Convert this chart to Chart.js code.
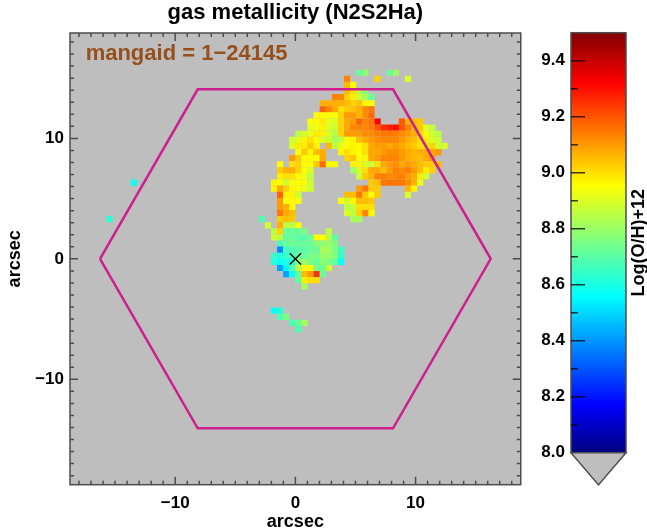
<!DOCTYPE html>
<html>
<head>
<meta charset="utf-8">
<script src="https://cdn.jsdelivr.net/npm/chart.js@4"></script>
<style>
  body { margin: 0; background: #fff; }
  canvas { position: absolute; top: 0; }
  #mapChart { left: 0; }
  #barChart { left: 530px; }
</style>
</head>
<body>
<canvas id="mapChart" width="530" height="531"></canvas>
<canvas id="barChart" width="117" height="531"></canvas>
<script>
const fontName = "'Liberation Sans', Arial, sans-serif";
const grey = "#bebebe";
const frameColor = "#4d4d4d";

// spaxel rows: row number, first column, log(O/H)+12 per column
const rowIndex = [30, 29, 28, 27, 26, 25, 24, 23, 22, 21, 20, 19, 18, 17, 16, 15, 14, 13, 12, 11, 10, 9, 8, 7, 6, 5, 4, 3, 2, 1, 0, -1, -2, -3, -4, -5, -9, -10, -11, -12];
const firstCol = [10, 8, 8, 8, 6, 4, 4, 3, 2, 2, 0, -1, -1, 0, -1, -3, -3, -3, -4, -4, -3, -3, -3, -3, -6, -5, -4, -4, -3, -3, -4, -4, -3, -2, 0, 1, -4, -3, -1, 0];
const rowValues = [
  [8.72, 8.78, null, null, null, 8.72, 8.8],
  [9.13, null, null, null, null, 9.02, null, null, null, null, 8.9],
  [9.06, 8.96],
  [9.05, 9.0, 8.85, 8.78],
  [9.13, 9.13, 9.02, 8.98, 8.88, 8.82, 8.72],
  [9.07, 9.07, 9.07, 9.07, 9.05, 9.02, 9.04, 8.97, 8.95],
  [9.18, 9.13, 9.08, 9.0, 9.03, 9.04, 9.07, 9.12, 9.15],
  [8.96, 8.96, 8.96, 8.94, 9.02, 9.1, 9.1, 9.06, 9.12, 9.17],
  [8.95, 8.96, 8.98, 8.92, 8.9, 9.02, 9.08, 9.1, 9.18, 9.13, 9.15, 9.33, null, null, null, 9.2, 9.06, 9.05, 9.03],
  [8.92, 8.94, 8.97, 8.9, 8.88, 9.02, 9.08, 9.13, 9.13, 9.13, 9.15, 9.2, 9.26, 9.28, 9.3, 9.2, 9.14, 9.06, 9.03, 8.92, 8.85],
  [8.85, 8.9, 8.92, 8.98, 8.98, 8.9, 8.83, 9.02, 9.1, 9.1, 9.1, 9.12, 9.12, 9.14, 9.15, 9.15, 9.14, 9.12, 9.1, 9.07, 9.0, 8.95, 8.88, 8.85],
  [8.88, 8.92, 8.97, 9.0, 8.95, 8.9, 8.88, 8.82, 8.85, 8.96, 8.97, 9.05, 9.08, 9.1, 9.12, 9.13, 9.13, 9.13, 9.1, 9.07, 9.05, 9.0, 8.98, 8.9, 8.88],
  [8.9, 8.98, 8.98, 9.03, 8.97, null, 9.06, 8.85, 8.92, 8.96, 8.97, 8.96, 9.0, 9.08, 9.1, 9.1, 9.08, 9.1, 9.08, 9.05, 9.03, 9.0, 8.98, 9.02, 8.88, 8.9],
  [8.96, 9.03, 8.97, 9.05, 9.07, null, null, 8.97, 9.0, 8.97, 8.96, 9.0, 9.08, 9.08, 9.1, 9.12, 9.12, 9.1, 9.08, 9.06, 9.07, 9.07, 9.08, 9.1],
  [9.1, 9.03, 8.95, 8.96, 8.96, 9.08, null, null, null, 9.02, 9.04, 8.96, 8.97, 9.08, 9.1, 9.13, 9.13, 9.13, 9.1, 9.07, 9.06, 9.05, 9.08, 9.1],
  [8.96, null, 9.0, 9.02, 8.96, 8.95, 9.03, 9.17, 8.96, 8.96, null, null, 8.97, 8.97, 8.9, 8.88, 9.0, 9.08, 9.1, 9.12, 9.08, 9.1, 9.08, 9.05, 9.03, 9.03, 9.05],
  [9.03, 9.07, 9.07, 9.02, 8.95, 8.9, null, null, null, null, null, null, 8.8, 8.9, 9.0, 9.08, 9.08, 9.05, 9.1, 9.14, 9.12, 9.14, 9.1, 9.05, 8.98, 9.02],
  [8.98, 9.0, 9.0, 8.96, 8.93, 8.85, null, null, null, null, null, null, null, 8.88, 9.03, 9.07, 9.14, 9.14, 9.12, 9.13, 9.14, 9.1, 9.08, 8.98, 8.88],
  [8.97, 8.96, 8.88, 8.95, 8.96, 8.96, 8.88, null, null, null, null, null, null, null, null, null, 9.03, 9.05, 9.15, 9.16, 9.15, 9.15, 9.12, 9.07, 8.92],
  [8.97, 9.08, 9.02, 8.96, 8.96, 8.92, 8.88, null, null, null, null, null, null, null, 9.1, 9.15, 9.03, 9.03, null, null, null, null, 9.06, 8.97],
  [9.18, 8.97, 8.97, 8.88, null, null, null, null, null, null, null, 9.05, 9.05, 9.15, 9.03, 8.96, 9.03, null, null, null, null, 8.9],
  [9.1, 8.95, 8.96, 8.95, null, null, null, null, null, null, 8.96, 8.88, 8.97, 9.05, 9.05, 9.04],
  [9.1, 9.07, 8.96, null, null, null, null, null, null, null, null, 8.85, 8.87, 9.0, 9.0, 9.0],
  [9.15, 9.08, 9.05, null, null, null, null, null, null, null, null, 8.9, 8.85, 9.02, 9.13, 8.96],
  [8.68, null, null, 9.03, 9.05, 9.03, null, null, null, null, null, null, null, null, null, 8.82, 8.82],
  [8.88, null, 9.07, 8.85, 8.85, 8.95],
  [8.85, 9.02, 8.72, 8.72, 8.72, 8.75, null, null, null, 8.85],
  [8.88, 8.85, 8.72, 8.72, 8.7, 8.7, 8.72, 8.96, 8.96, 8.85, 8.7],
  [8.68, 8.72, 8.74, 8.72, 8.72, 8.72, 8.78, 8.78, 8.8, 8.75],
  [8.38, 8.66, 8.68, 8.7, 8.7, 8.72, 8.72, 8.82, 8.82, 8.75, 8.66],
  [8.64, 8.62, 8.64, 8.66, 8.72, 8.72, 8.75, 8.75, 8.8, 8.8, 8.76, 8.64],
  [8.62, 8.57, 8.6, 8.62, 8.78, 8.8, 8.75, 8.72, 8.78, 8.75, 8.72, 8.57],
  [8.42, 8.55, 8.68, 8.85, 8.96, 8.95, 8.75, 8.72, 8.88],
  [8.42, 8.57, 8.72, 9.05, 9.1, 9.25, 8.72],
  [8.7, 8.98, 9.0, 9.0],
  [8.82],
  [8.57, 8.62],
  [8.68, 8.75],
  [8.68, 8.72, 8.82],
  [8.68]
];
// the two stray spaxels on the left
const strayCol = [-27, -31];
const strayRow = [12, 6];
const strayValue = [8.58, 8.63];

const spaxel = 0.5066; // arcsec per map cell, as measured
const hexX = [-16.25, -8.125, 8.125, 16.25, 8.125, -8.125, -16.25];
const hexY = [0, 14.07, 14.07, 0, -14.07, -14.07, 0];
const axisTicks = [-10, 0, 10];
const barTicks = [8.0, 8.2, 8.4, 8.6, 8.8, 9.0, 9.2, 9.4];
const barMinorTicks = [8.1, 8.3, 8.5, 8.7, 8.9, 9.1, 9.3];
const mapStops = [8.0, 8.17, 8.56, 8.76, 8.955, 9.32, 9.5];
const mapColors = [[0, 0, 128], [0, 0, 255], [0, 255, 255], [128, 255, 128], [255, 255, 0], [255, 0, 0], [128, 0, 0]];

function colorFor(v) {
  let i = 0;
  while (i < mapStops.length - 2 && v > mapStops[i + 1]) i++;
  const t = Math.min(1, Math.max(0, (v - mapStops[i]) / (mapStops[i + 1] - mapStops[i])));
  const c = mapColors[i].map((a, n) => Math.round(a + (mapColors[i + 1][n] - a) * t));
  return "rgb(" + c.join(",") + ")";
}

const cells = [];
rowValues.forEach((row, r) => row.forEach((v, n) => {
  if (v !== null) cells.push({ x: (firstCol[r] + n + 0.5) * spaxel, y: (rowIndex[r] + 0.5) * spaxel, v: v });
}));
strayCol.forEach((c, i) => cells.push({ x: (c + 0.5) * spaxel, y: (strayRow[i] + 0.5) * spaxel, v: strayValue[i] }));

function minus(v) {
  return String(v).replace("-", "\u2212");
}

const mapFrame = {
  id: "mapFrame",
  beforeDatasetsDraw(chart) {
    const a = chart.chartArea, c = chart.ctx;
    c.fillStyle = grey;
    c.fillRect(a.left, a.top, a.width, a.height);
  },
  afterDatasetsDraw(chart) {
    const a = chart.chartArea, c = chart.ctx, sx = chart.scales.x, sy = chart.scales.y;
    c.save();
    c.strokeStyle = frameColor;
    c.lineWidth = 1.5;
    c.strokeRect(a.left, a.top, a.width, a.height);
    c.beginPath();
    for (let v = -18; v <= 18; v++) {
      const len = v % 10 === 0 ? 8 : 4;
      const px = sx.getPixelForValue(v), py = sy.getPixelForValue(v);
      c.moveTo(px, a.bottom); c.lineTo(px, a.bottom - len);
      c.moveTo(px, a.top); c.lineTo(px, a.top + len);
      c.moveTo(a.left, py); c.lineTo(a.left + len, py);
      c.moveTo(a.right, py); c.lineTo(a.right - len, py);
    }
    c.stroke();
    c.fillStyle = "#964f1d";
    c.font = "bold 22px " + fontName;
    c.textBaseline = "middle";
    c.fillText("mangaid = 1\u221224145", sx.getPixelForValue(-17.45), sy.getPixelForValue(17.0));
    c.restore();
  }
};

new Chart(document.getElementById("mapChart"), {
  type: "scatter",
  data: {
    datasets: [
      { data: [{ x: 0, y: 0 }], pointStyle: "crossRot", pointRadius: 8, borderColor: "#000", borderWidth: 1.25, order: 0 },
      { data: hexX.map((x, i) => ({ x: x, y: hexY[i] })), showLine: true, pointRadius: 0, borderColor: "#cd1f8e", borderWidth: 2.5, order: 1 },
      {
        data: cells,
        pointStyle: "rect",
        backgroundColor: cells.map(p => colorFor(p.v)),
        borderWidth: 0,
        pointRadius: ctx => {
          const sx = ctx.chart.scales.x;
          return (sx.getPixelForValue(spaxel) - sx.getPixelForValue(0)) / Math.SQRT2 + 0.08;
        },
        order: 2
      }
    ]
  },
  options: {
    responsive: false,
    animation: false,
    devicePixelRatio: 1,
    layout: { padding: { left: 0, right: 8.5, top: 0, bottom: 0 } },
    plugins: {
      legend: { display: false },
      tooltip: { enabled: false },
      title: {
        display: true,
        fullSize: false,
        text: "gas metallicity (N2S2Ha)",
        color: "#000",
        font: { family: fontName, size: 22, weight: "bold" },
        padding: { top: 0, bottom: 6.6 }
      }
    },
    scales: {
      x: {
        min: -18.75, max: 18.75,
        grid: { display: false, drawTicks: false },
        border: { display: false },
        afterBuildTicks: s => { s.ticks = axisTicks.map(v => ({ value: v })); },
        afterFit: s => { s.height = 46.3; },
        ticks: { color: "#000", padding: 8, maxRotation: 0, font: { family: fontName, size: 17, weight: "bold" }, callback: minus },
        title: { display: true, text: "arcsec", color: "#000", padding: { top: 0, bottom: -2 }, font: { family: fontName, size: 18, weight: "bold" } }
      },
      y: {
        min: -18.75, max: 18.75,
        grid: { display: false, drawTicks: false },
        border: { display: false },
        afterBuildTicks: s => { s.ticks = axisTicks.map(v => ({ value: v })); },
        afterFit: s => { s.width = 70; },
        ticks: { color: "#000", padding: 6, font: { family: fontName, size: 17, weight: "bold" }, callback: minus },
        title: { display: true, text: "arcsec", color: "#000", padding: { top: 4, bottom: 0 }, font: { family: fontName, size: 18, weight: "bold" } }
      }
    }
  },
  plugins: [mapFrame]
});

const barFrame = {
  id: "barFrame",
  afterDatasetsDraw(chart) {
    const a = chart.chartArea, c = chart.ctx, sy = chart.scales.y;
    c.save();
    c.strokeStyle = frameColor;
    c.lineWidth = 1.5;
    c.strokeRect(a.left, a.top, a.width, a.height);
    c.strokeStyle = "rgba(0,0,0,0.75)";
    c.beginPath();
    barTicks.forEach(v => { c.moveTo(a.left, sy.getPixelForValue(v)); c.lineTo(a.left + 14, sy.getPixelForValue(v)); });
    barMinorTicks.forEach(v => { c.moveTo(a.left, sy.getPixelForValue(v)); c.lineTo(a.left + 7, sy.getPixelForValue(v)); });
    c.stroke();
    // out-of-range marker under the bar
    c.fillStyle = grey;
    c.strokeStyle = frameColor;
    c.beginPath();
    c.moveTo(a.left, a.bottom);
    c.lineTo(a.right, a.bottom);
    c.lineTo((a.left + a.right) / 2, sy.getPixelForValue(7.885));
    c.closePath();
    c.fill();
    c.stroke();
    c.translate(109, (a.top + a.bottom) / 2);
    c.rotate(-Math.PI / 2);
    c.fillStyle = "#000";
    c.font = "bold 18px " + fontName;
    c.textAlign = "center";
    c.textBaseline = "middle";
    c.fillText("Log(O/H)+12", 0, 0);
    c.restore();
  }
};

new Chart(document.getElementById("barChart"), {
  type: "bar",
  data: {
    labels: [""],
    datasets: [{
      data: [[8, 9.5]],
      barPercentage: 1,
      categoryPercentage: 1,
      backgroundColor: ctx => {
        const a = ctx.chart.chartArea;
        if (!a) return null;
        const g = ctx.chart.ctx.createLinearGradient(0, a.bottom, 0, a.top);
        mapStops.forEach((v, i) => g.addColorStop((v - 8) / 1.5, "rgb(" + mapColors[i].join(",") + ")"));
        return g;
      }
    }]
  },
  options: {
    responsive: false,
    animation: false,
    devicePixelRatio: 1,
    layout: { padding: { top: 32.7, bottom: 78.3, left: 0, right: 21 } },
    plugins: { legend: { display: false }, tooltip: { enabled: false } },
    scales: {
      x: { display: false },
      y: {
        min: 8, max: 9.5,
        grid: { display: false, drawTicks: false },
        border: { display: false },
        afterBuildTicks: s => { s.ticks = barTicks.map(v => ({ value: v })); },
        afterFit: s => { s.width = 41; },
        ticks: { color: "#000", padding: 6, font: { family: fontName, size: 17, weight: "bold" }, callback: v => v.toFixed(1) }
      }
    }
  },
  plugins: [barFrame]
});
</script>
</body>
</html>
